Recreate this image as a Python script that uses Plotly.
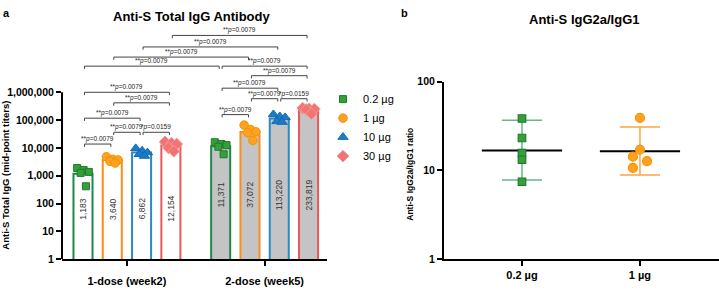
import plotly.graph_objects as go

# ---------------- data ----------------
doses = ["0.2 µg", "1 µg", "10 µg", "30 µg"]
timepoints = ["1-dose (week2)", "2-dose (week5)"]
gmt_week2 = [1183, 3640, 6862, 12154]
gmt_week5 = [11371, 37072, 113220, 233819]
ind_week2 = [
    [1890, 1610, 1370, 1260, 417],
    [4800, 3900, 3700, 3300, 2850],
    [9600, 7900, 6800, 5900, 5100],
    [16500, 14800, 13800, 10000, 7600],
]
ind_week5 = [
    [16000, 13800, 12600, 11000, 5900],
    [66000, 46000, 38000, 35000, 18500],
    [160000, 135000, 125000, 90000, 85000],
    [270000, 255000, 250000, 240000, 170000],
]
# comparisons: (bar index a, bar index b, stars, p) ; bars 0-3 week2, 4-7 week5
comparisons = [
    (0, 1, "**", "0.0079"), (1, 2, "**", "0.0079"), (2, 3, "*", "0.0159"),
    (0, 2, "**", "0.0079"), (1, 3, "**", "0.0079"), (0, 3, "**", "0.0079"),
    (4, 5, "**", "0.0079"), (5, 6, "**", "0.0079"), (6, 7, "*", "0.0159"),
    (4, 6, "**", "0.0079"), (5, 7, "**", "0.0079"), (4, 7, "**", "0.0079"),
    (0, 4, "**", "0.0079"), (1, 5, "**", "0.0079"), (2, 6, "**", "0.0079"),
    (3, 7, "**", "0.0079"),
]
ratio_doses = ["0.2 µg", "1 µg"]
ratio_02 = [38.5, 23.2, 15.7, 13.2, 7.45]
ratio_1 = [39.1, 17.1, 14.3, 12.7, 10.7]
ratio_gmean = [16.8, 16.5]
ratio_ci_lo = [7.8, 8.9]
ratio_ci_hi = [36.7, 30.8]

# ---------------- layout helpers (positions / styles) ----------------
W, H = 719, 291
FONT = "Liberation Sans, Arial, sans-serif"
group_offset = [0.0, 4.7]
bar_w = 0.65
jitter = [-0.2, 0.02, 0.2, -0.08, 0.1]
bracket_levels = [4.138, 4.562, 4.562, 5.069, 5.621, 6.0,
                  5.197, 5.769, 5.769, 6.148, 6.597, 6.941,
                  6.941, 7.266, 7.631, 8.045]  # log10 units
value_label_level = [1.81, 2.31]  # log10 units
ratio_jitter = [[0, 0, 0, 0, 0], [0, 0, -0.06, 0.06, -0.06]]

bar_line = ["#1b8a4c", "#ff8c1a", "#2a8ac4", "#e8595a"]
pt_fill = ["#35a035", "#ffa21f", "#1a7cc8", "#f37272"]
pt_edge = ["#1d7a30", "#f39200", "#1769ad", "#f59a9a"]
symbols = ["square", "circle", "triangle-up", "diamond"]
sizes = [7, 8.5, 9, 9]

ya_top = 8.207
y_bot = 1 - 264 / H
fig = go.Figure()

bar_x = [group_offset[g] + i for g in range(2) for i in range(4)]

# bars
for g, (vals, fill) in enumerate([(gmt_week2, "white"), (gmt_week5, "#c4c4c4")]):
    fig.add_trace(go.Bar(
        x=[group_offset[g] + i for i in range(4)], y=vals, width=bar_w,
        marker=dict(color=fill, line=dict(color=bar_line, width=2)),
        showlegend=False, hoverinfo="skip", xaxis="x", yaxis="y"))

# individual points
for i, d in enumerate(doses):
    px, py = [], []
    for g, ind in enumerate([ind_week2, ind_week5]):
        for k, v in enumerate(ind[i]):
            px.append(group_offset[g] + i + jitter[k])
            py.append(v)
    fig.add_trace(go.Scatter(
        x=px, y=py, mode="markers", name=d,
        marker=dict(symbol=symbols[i], size=sizes[i], color=pt_fill[i],
                    line=dict(color=pt_edge[i], width=1)),
        xaxis="x", yaxis="y", cliponaxis=False))

# significance brackets
inset = 0.05
drop = 0.1
bx, by = [], []
annotations = []
for (a, b, stars, p), lev in zip(comparisons, bracket_levels):
    x0, x1 = bar_x[a] + inset, bar_x[b] - inset
    top = 10 ** lev
    low = 10 ** (lev - drop)
    bx += [x0, x0, x1, x1, None]
    by += [low, top, top, low, None]
    annotations.append(dict(
        x=(x0 + x1) / 2, y=lev, xref="x", yref="y", xanchor="center", yanchor="bottom",
        text=f"{stars}<i>p</i>=" + p, showarrow=False, yshift=0, borderpad=0,
        font=dict(family=FONT, size=6.5, color="#222")))
fig.add_trace(go.Scatter(x=bx, y=by, mode="lines", line=dict(color="#444", width=1),
                         showlegend=False, hoverinfo="skip", xaxis="x", yaxis="y"))

# bar value labels
for g, vals in enumerate([gmt_week2, gmt_week5]):
    for i, v in enumerate(vals):
        annotations.append(dict(
            x=group_offset[g] + i, y=value_label_level[g], xref="x", yref="y",
            xanchor="center", yanchor="middle",
            text=f"{v:,}", textangle=-90, showarrow=False,
            font=dict(family=FONT, size=8.5, color="#333")))

# ---------------- panel b ----------------
ratio_sets = [ratio_02, ratio_1]
err_col = ["#6cb58a", "#ffa340"]
for i in range(2):
    fig.add_trace(go.Scatter(
        x=[i, i, None, i - 0.17, i + 0.17, None, i - 0.17, i + 0.17],
        y=[ratio_ci_lo[i], ratio_ci_hi[i], None, ratio_ci_hi[i], ratio_ci_hi[i], None,
           ratio_ci_lo[i], ratio_ci_lo[i]],
        mode="lines", line=dict(color=err_col[i], width=1.5),
        showlegend=False, hoverinfo="skip", xaxis="x2", yaxis="y2"))
    fig.add_trace(go.Scatter(
        x=[i - 0.34, i + 0.34], y=[ratio_gmean[i], ratio_gmean[i]], mode="lines",
        line=dict(color="black", width=2), showlegend=False, hoverinfo="skip",
        xaxis="x2", yaxis="y2"))
    fig.add_trace(go.Scatter(
        x=[i + j for j in ratio_jitter[i]], y=ratio_sets[i], mode="markers",
        marker=dict(symbol=symbols[i], size=[7.5, 9][i], color=pt_fill[i],
                    line=dict(color=pt_edge[i], width=1.2)),
        showlegend=False, xaxis="x2", yaxis="y2"))

def paper_text(x, y, text, size, angle=0, xanchor="center"):
    return dict(x=x / W, y=1 - y / H, xref="paper", yref="paper", text=text,
                xanchor=xanchor, yanchor="middle", textangle=angle, showarrow=False,
                font=dict(family=FONT, size=size, color="black"))

annotations += [
    paper_text(191, 11, "<b>Anti-S Total IgG Antibody</b>", 13),
    paper_text(584, 14, "<b>Anti-S IgG2a/IgG1</b>", 13),
    paper_text(1, 7, "<b>a</b>", 11, xanchor="left"),
    paper_text(404, 7, "<b>b</b>", 11),
    paper_text(6, 177, "<b>Anti-S Total IgG (mid-point titers)</b>", 9.5, angle=-90),
    paper_text(410, 176, "<b>Anti-S IgG2a/IgG1 ratio</b>", 8.5, angle=-90),
]

tickfont = dict(family=FONT, size=10.5, color="black", weight="bold")
fig.update_layout(
    width=W, height=H, margin=dict(l=0, r=0, t=0, b=0),
    paper_bgcolor="white", plot_bgcolor="rgba(0,0,0,0)",
    barmode="overlay", showlegend=True, hovermode=False,
    legend=dict(x=323 / W, y=1 - 82 / H, xanchor="left", yanchor="top",
                font=dict(family=FONT, size=11, color="black"),
                bgcolor="rgba(0,0,0,0)", tracegroupgap=0),
    xaxis=dict(domain=[62 / W, 327 / W], range=[-0.717, 8.33], anchor="y",
               tickvals=[group_offset[0] + 1.5, group_offset[1] + 1.5], ticktext=timepoints,
               showline=True, linewidth=2, linecolor="black", ticks="outside",
               ticklen=5, tickwidth=2, tickcolor="black", showgrid=False, zeroline=False,
               tickfont=dict(family=FONT, size=11, color="black", weight="bold"),
               ticklabelstandoff=6),
    yaxis=dict(type="log", domain=[y_bot, 1 - 26 / H], range=[0, ya_top], anchor="x",
               tickvals=[1, 10, 100, 1000, 10000, 100000, 1000000],
               ticktext=["1", "10", "100", "1,000", "10,000", "100,000", "1,000,000"],
               showline=False, ticks="outside", ticklen=5, tickwidth=2, tickcolor="black",
               showgrid=False, zeroline=False, tickfont=tickfont),
    xaxis2=dict(domain=[444 / W, 1.0], range=[-0.661, 1.67], anchor="y2",
                tickvals=[0, 1], ticktext=ratio_doses,
                showline=True, linewidth=2, linecolor="black", ticks="outside",
                ticklen=5, tickwidth=2, tickcolor="black", showgrid=False, zeroline=False,
                tickfont=dict(family=FONT, size=11, color="black", weight="bold")),
    yaxis2=dict(type="log", domain=[y_bot, 1 - 79 / H], range=[0, 2], anchor="x2",
                tickvals=[1, 10, 100], ticktext=["1", "10", "100"],
                showline=True, linewidth=2, linecolor="black", ticks="outside",
                ticklen=5, tickwidth=2, tickcolor="black", showgrid=False, zeroline=False,
                tickfont=tickfont),
    annotations=annotations,
    shapes=[dict(type="line", xref="x domain", yref="y domain", x0=0, x1=0,
                 y0=0, y1=6 / ya_top, line=dict(color="black", width=2))],
)

fig.write_html("out.html", config={"displayModeBar": False, "staticPlot": True},
               post_script="document.body.style.margin='0px';document.body.style.overflow='hidden';")
